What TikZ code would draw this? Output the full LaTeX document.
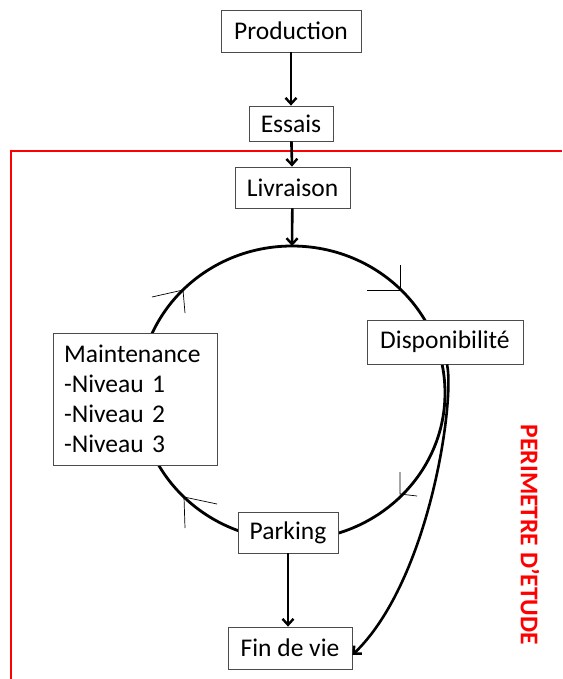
\documentclass[tikz,border=0pt]{standalone}
\usepackage{fontspec}
\setmainfont{Carlito}
\definecolor{perired}{HTML}{FF0000}
\usetikzlibrary{arrows.meta}

\begin{document}
\begin{tikzpicture}[x=1pt,y=-1pt,
    box/.style={draw=black!70,line width=0.8pt,fill=white,inner sep=0pt,font=\fontsize{25.5}{30}\selectfont},
    flow/.style={line width=2.6pt,-{Straight Barb[length=6pt,width=11pt,line width=2.4pt]}}]
      \useasboundingbox (0,0) rectangle (562,679);
      % perimetre d'etude
      \draw[perired,line width=2.8pt] (11,679) -- (11,151) -- (562,151);
      \node[perired,rotate=-90,font=\fontsize{25.5}{30}\selectfont\bfseries] (peri) at (530,535) {PERIMETRE D'ETUDE};
      % cycle
      \coordinate (ctop) at (292,246);
      \draw[line width=2.8pt] (292,393) ellipse [x radius=153pt,y radius=147pt];
      \foreach \tx/\ty/\ax/\ay/\bx/\by in {183/290/152/297/185/313,400/290/367/290/400/265,
                                           400/494/400/472/417/496,184/497/185/528/217/504}{
        \draw[line width=0.7pt] (\ax,\ay) -- (\tx,\ty) -- (\bx,\by);
      }
      \node[box,minimum width=140pt,minimum height=42pt] (prod) at (291,31) {Production};
      \node[box,minimum width=84pt,minimum height=35pt] (essais) at (291,123.5) {Essais};
      \node[box,minimum width=115pt,minimum height=41pt] (livr) at (292.5,187.5) {Livraison};
      \node[box,minimum width=156pt,minimum height=44pt] (dispo) at (445,342) {Disponibilité};
      \node[box,minimum width=164pt,minimum height=132pt,align=left,text width=142pt,
            font=\fontsize{25.5}{30}\selectfont] (maint) at (135,399) {Maintenance\\-Niveau 1\\-Niveau 2\\-Niveau 3};
      \node[box,minimum width=100pt,minimum height=41pt] (park) at (288,532.5) {Parking};
      \node[box,minimum width=124pt,minimum height=42pt] (fin) at (290,648) {Fin de vie};
      \draw[flow] (prod) -- (essais);
      \draw[flow] (essais) -- (livr);
      \draw[flow] (livr) -- (ctop);
      \draw[flow] (park.south) -- (park.south |- fin.north);
      \draw[flow] ([xshift=2pt]dispo.south) .. controls (455,400) and (430,580) .. ([yshift=-7pt]fin.east);
    \end{tikzpicture}
\end{document}
